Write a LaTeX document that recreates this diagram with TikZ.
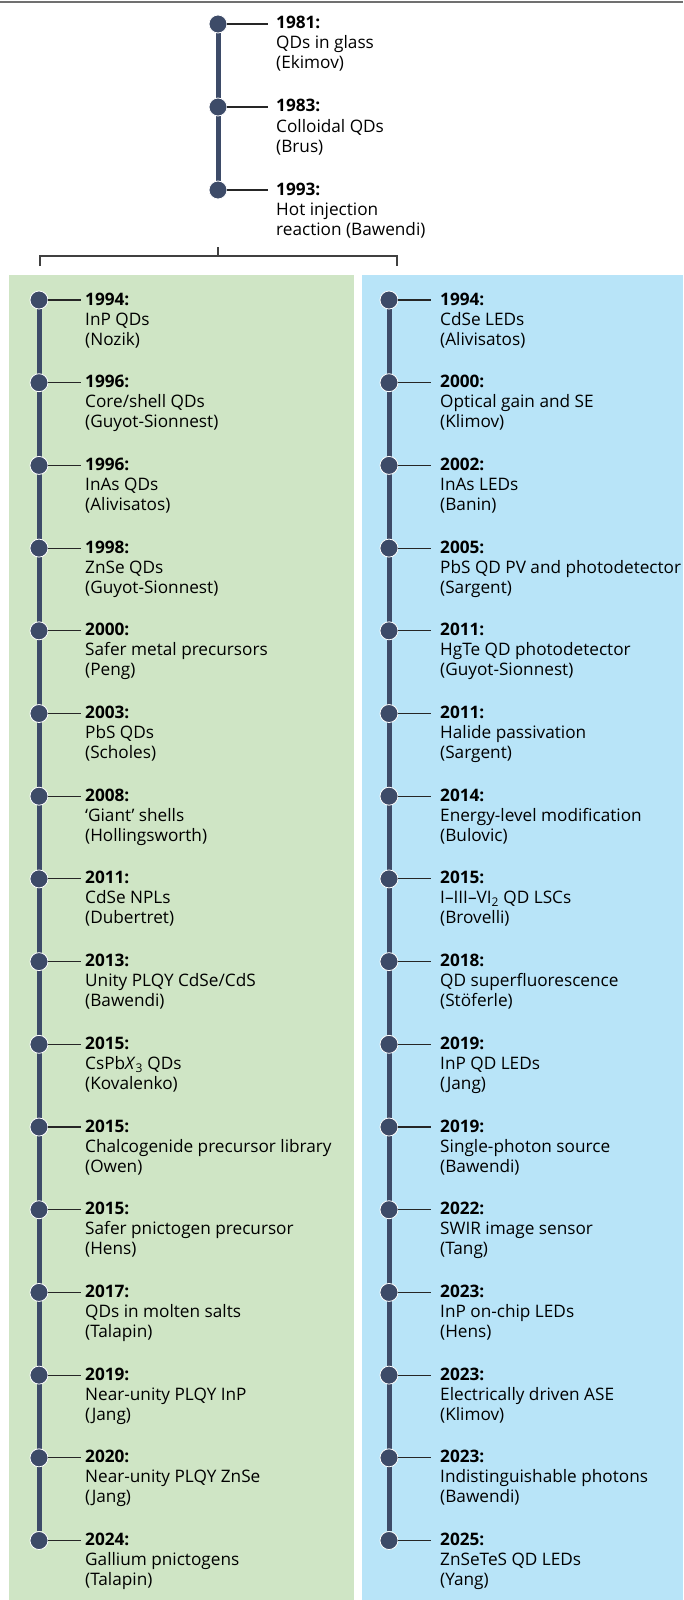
\documentclass[tikz,border=0pt]{standalone}
\usepackage{fontspec}
\setmainfont{Open Sans}
\usetikzlibrary{positioning, backgrounds}

\definecolor{navy}{HTML}{3D4B68}
\definecolor{greenpanel}{HTML}{CFE5C5}
\definecolor{bluepanel}{HTML}{B8E4F8}
\definecolor{rulegray}{HTML}{707070}

\begin{document}
\begin{tikzpicture}[x=1pt, y=-1pt,
    dot/.style={circle, fill=navy, draw=white, line width=0.8pt, minimum size=18pt, inner sep=0pt},
    spine/.style={navy, line width=5pt},
    tick/.style={black!85, line width=1.1pt},
    bracket/.style={black!75, line width=1.1pt},
    desc/.style={anchor=base west, inner sep=0pt, font=\fontsize{17.2}{20}\selectfont},
    yearlbl/.style={desc, font=\fontsize{17.2}{20}\selectfont\bfseries}]
    \useasboundingbox (0,0) rectangle (683,1600);

    % top rule
    \draw[rulegray, line width=2pt] (0,2.5) -- (683,2.5);

    % early milestones
    \foreach \yr/\what/\who [count=\i from 0] in {1981/QDs in glass/(Ekimov), 1983/Colloidal QDs/(Brus), 1993/Hot injection/reaction (Bawendi)}{
        \pgfmathsetmacro\yy{24+83*\i}
        \node[dot] (t\i) at (218,\yy) {};
        \node[yearlbl] (ty\i) at (276,\yy+5) {\yr:};
        \node[desc] (tw\i) at (276,\yy+25) {\what};
        \node[desc] (tn\i) at (276,\yy+45) {\who};
        \draw[tick, shorten >=8pt] (t\i) -- (t\i -| ty\i.west);
    }

    % split into the two branches
    \coordinate (brk) at (218,247);
    \coordinate (brM) at (218,256);
    \coordinate (brL) at (40,266);
    \coordinate (brR) at (397,266);
    \draw[bracket] (brk) -- (brM);
    \draw[bracket] (brL) -- (brL |- brM) -- (brR |- brM) -- (brR);

    % synthesis (green)
    \foreach \yr/\what/\who [count=\i from 0] in {
        1994/InP QDs/(Nozik),
        1996/{Core/shell QDs}/(Guyot-Sionnest),
        1996/InAs QDs/(Alivisatos),
        1998/ZnSe QDs/(Guyot-Sionnest),
        2000/Safer metal precursors/(Peng),
        2003/PbS QDs/(Scholes),
        2008/‘Giant’ shells/(Hollingsworth),
        2011/CdSe NPLs/(Dubertret),
        2013/{Unity PLQY CdSe/CdS}/(Bawendi),
        2015/{CsPb\textit{X}\textsubscript{3} QDs}/(Kovalenko),
        2015/Chalcogenide precursor library/(Owen),
        2015/Safer pnictogen precursor/(Hens),
        2017/QDs in molten salts/(Talapin),
        2019/Near-unity PLQY InP/(Jang),
        2020/Near-unity PLQY ZnSe/(Jang),
        2024/Gallium pnictogens/(Talapin)}{
        \pgfmathsetmacro\yy{300+82.7*\i}
        \node[dot] (g\i) at (39,\yy) {};
        \node[yearlbl] (gy\i) at (85,\yy+5) {\yr:};
        \node[desc] (gw\i) at (85,\yy+25) {\what};
        \node[desc] (gn\i) at (85,\yy+45) {\who};
        \draw[tick, shorten >=4pt] (g\i) -- (g\i -| gy\i.west);
    }

    % devices and photophysics (blue)
    \foreach \yr/\what/\who [count=\i from 0] in {
        1994/CdSe LEDs/(Alivisatos),
        2000/Optical gain and SE/(Klimov),
        2002/InAs LEDs/(Banin),
        2005/PbS QD PV and photodetector/(Sargent),
        2011/HgTe QD photodetector/(Guyot-Sionnest),
        2011/Halide passivation/(Sargent),
        2014/Energy-level modification/(Bulovic),
        2015/{I--III--VI\textsubscript{2} QD LSCs}/(Brovelli),
        2018/QD superfluorescence/(Stöferle),
        2019/InP QD LEDs/(Jang),
        2019/Single-photon source/(Bawendi),
        2022/SWIR image sensor/(Tang),
        2023/InP on-chip LEDs/(Hens),
        2023/Electrically driven ASE/(Klimov),
        2023/Indistinguishable photons/(Bawendi),
        2025/ZnSeTeS QD LEDs/(Yang)}{
        \pgfmathsetmacro\yy{300+82.7*\i}
        \node[dot] (b\i) at (389,\yy) {};
        \node[yearlbl] (by\i) at (440,\yy+5) {\yr:};
        \node[desc] (bw\i) at (440,\yy+25) {\what};
        \node[desc] (bn\i) at (440,\yy+45) {\who};
        \draw[tick, shorten >=9pt] (b\i) -- (b\i -| by\i.west);
    }

    % panels and spines behind everything
    \begin{scope}[on background layer]
        \fill[greenpanel] (9,275) rectangle (354,1600);
        \fill[bluepanel] (362,275) rectangle (683,1600);
        \draw[spine] (t0) -- (t2);
        \draw[spine] (g0) -- (g15);
        \draw[spine] (b0) -- (b15);
    \end{scope}
\end{tikzpicture}
\end{document}
